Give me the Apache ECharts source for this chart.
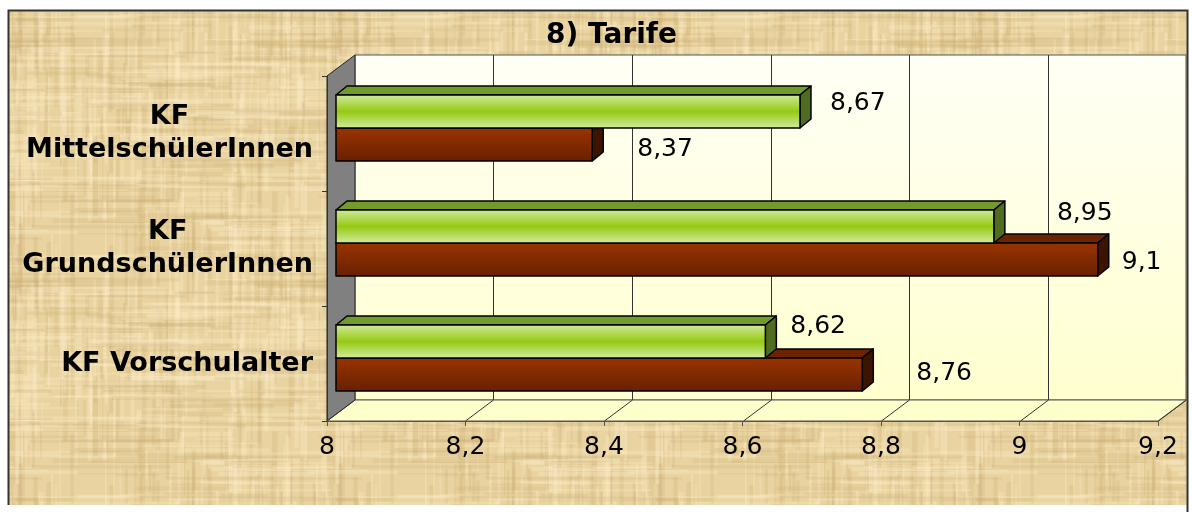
<!DOCTYPE html>
<html>
<head>
<meta charset="utf-8">
<script src="https://cdn.jsdelivr.net/npm/echarts@6/dist/echarts.min.js"></script>
<style>
  html, body { margin: 0; padding: 0; background: #fff; }
  #chart { width: 1192px; height: 512px; }
</style>
</head>
<body>
<div id="chart"></div>
<script>
var categories = ['KF Vorschulalter', 'KF\nGrundschülerInnen', 'KF\nMittelschülerInnen'];
var greenValues = [8.62, 8.95, 8.67];
var brownValues = [8.76, 9.1, 8.37];
var tickValues = [8, 8.2, 8.4, 8.6, 8.8, 9, 9.2];

// label nudges (pixels), per category
var greenLabelDx = [25, 63, 30];
var greenLabelDy = [-15, -13, -8];
var brownLabelDx = [54, 24, 45];
var brownLabelDy = [-1, 3, 5];

var FONT = 'DejaVu Sans';
var DEPTH_X = 28, DEPTH_Y = -21;   // chart depth
var BAR_DX = 11, BAR_DY = -9;      // bar depth
var BAR_SHIFT_X = 9, BAR_SHIFT_Y = -5.5;

function comma(v) {
	return String(v).replace('.', ',');
}

// papyrus-like background
function makePaper() {
	var c = document.createElement('canvas');
	c.width = 320; c.height = 240;
	var g = c.getContext('2d');
	g.fillStyle = '#e9d4a1';
	g.fillRect(0, 0, c.width, c.height);
	function h(n) {
		var s = Math.sin(n * 127.1 + 311.7) * 43758.5453;
		return s - Math.floor(s);
	}
	// vertical fibres, short segments
	for (var i = 0; i < 260; i++) {
		var x = h(i) * c.width, w = 1 + h(i + 500) * 4;
		var y = h(i + 700) * c.height, len = 20 + h(i + 800) * 90;
		g.fillStyle = h(i + 900) > 0.45 ? 'rgba(252,236,198,0.35)' : 'rgba(200,168,110,0.22)';
		g.fillRect(x, y, w, len);
		if (y + len > c.height) g.fillRect(x, y - c.height, w, len);
	}
	// horizontal fibres
	for (var j = 0; j < 220; j++) {
		var yy = h(j + 2000) * c.height, hh = 1 + h(j + 2500) * 4;
		var xx = h(j + 2700) * c.width, ll = 30 + h(j + 2800) * 120;
		g.fillStyle = h(j + 2900) > 0.45 ? 'rgba(252,236,198,0.3)' : 'rgba(200,168,110,0.2)';
		g.fillRect(xx, yy, ll, hh);
		if (xx + ll > c.width) g.fillRect(xx - c.width, yy, ll, hh);
	}
	return c;
}

var chart = echarts.init(document.getElementById('chart'));

function renderFrame(params, api) {
	var cs = params.coordSys;
	var x = cs.x, y = cs.y, w = cs.width, hgt = cs.height;
	var children = [];
	// back wall
	children.push({
		type: 'rect',
		shape: { x: x + DEPTH_X, y: y + DEPTH_Y, width: w, height: hgt },
		style: {
			fill: new echarts.graphic.LinearGradient(0, 0, 0, 1, [
				{ offset: 0, color: '#fffff6' },
				{ offset: 1, color: '#ffffcf' }
			]),
			stroke: '#555', lineWidth: 1
		}
	});
	// floor
	children.push({
		type: 'polygon',
		shape: { points: [[x, y + hgt], [x + DEPTH_X, y + hgt + DEPTH_Y], [x + w + DEPTH_X, y + hgt + DEPTH_Y], [x + w, y + hgt]] },
		style: { fill: '#ffffcc', stroke: '#555', lineWidth: 1 }
	});
	// left side wall
	children.push({
		type: 'polygon',
		shape: { points: [[x, y], [x + DEPTH_X, y + DEPTH_Y], [x + DEPTH_X, y + hgt + DEPTH_Y], [x, y + hgt]] },
		style: { fill: '#808080', stroke: '#222', lineWidth: 1 }
	});
	tickValues.forEach(function (v, i) {
		var px = Math.round(api.coord([v, 0])[0]) + 0.5;
		if (i > 0 && i < tickValues.length - 1) {
			children.push({
				type: 'line',
				shape: { x1: px + DEPTH_X, y1: y + DEPTH_Y, x2: px + DEPTH_X, y2: y + hgt + DEPTH_Y },
				style: { stroke: '#333', lineWidth: 1 }
			});
		}
		if (i > 0) {
			children.push({
				type: 'line',
				shape: { x1: px, y1: y + hgt, x2: px + DEPTH_X, y2: y + hgt + DEPTH_Y },
				style: { stroke: '#333', lineWidth: 1 }
			});
		}
	});
	return { type: 'group', children: children };
}

function makeBarRenderer(isGreen, dxs, dys) {
	return function (params, api) {
		var v = api.value(0), ci = api.value(1);
		var p0 = api.coord([tickValues[0], ci]);
		var p1 = api.coord([v, ci]);
		var band = api.size([0, 1])[1];
		var h = band * 0.287;
		var mid = p0[1] + BAR_SHIFT_Y;
		var top = isGreen ? mid - h : mid;
		var x0 = p0[0] + BAR_SHIFT_X, x1 = p1[0] + BAR_SHIFT_X;
		var front = isGreen
			? new echarts.graphic.LinearGradient(0, 0, 0, 1, [
				{ offset: 0, color: '#d2eaa0' },
				{ offset: 0.5, color: '#96c912' },
				{ offset: 1, color: '#d4eca6' }
			])
			: new echarts.graphic.LinearGradient(0, 0, 0, 1, [
				{ offset: 0, color: '#9a3400' },
				{ offset: 1, color: '#682000' }
			]);
		var topFill = isGreen ? '#739a2c' : '#6c2400';
		var sideFill = isGreen ? '#506c1e' : '#3c1400';
		var line = { stroke: '#000', lineWidth: 1.5, lineJoin: 'round' };
		return {
			type: 'group',
			children: [
				{
					type: 'polygon',
					shape: { points: [[x0, top], [x0 + BAR_DX, top + BAR_DY], [x1 + BAR_DX, top + BAR_DY], [x1, top]] },
					style: Object.assign({ fill: topFill }, line)
				},
				{
					type: 'polygon',
					shape: { points: [[x1, top], [x1 + BAR_DX, top + BAR_DY], [x1 + BAR_DX, top + h + BAR_DY], [x1, top + h]] },
					style: Object.assign({ fill: sideFill }, line)
				},
				{
					type: 'rect',
					shape: { x: x0, y: top, width: x1 - x0, height: h },
					style: Object.assign({ fill: front }, line)
				},
				{
					type: 'text',
					x: x1 + dxs[ci],
					y: top + h / 2 + dys[ci],
					style: {
						text: comma(v),
						fill: '#000',
						font: '25px "' + FONT + '"',
						align: 'left',
						verticalAlign: 'middle'
					}
				}
			]
		};
	};
}

var option = {
	backgroundColor: '#ffffff',
	animation: false,
	title: {
		text: '8) Tarife',
		left: 541,
		top: 17,
		textStyle: { fontFamily: FONT, fontSize: 28, fontWeight: 'bold', color: '#000' }
	},
	graphic: [
		{
			type: 'rect',
			z: -10,
			shape: { x: 8, y: 10, width: 1179, height: 495 },
			style: { fill: { image: makePaper(), repeat: 'repeat' } }
		},
		{
			type: 'polyline',
			z: -9,
			shape: { points: [[8.5, 505], [8.5, 10.5], [1187.5, 10.5], [1187.5, 512]] },
			style: { fill: null, stroke: '#333', lineWidth: 2 }
		}
	],
	grid: { left: 327, top: 76, width: 831, height: 345 },
	xAxis: {
		type: 'value',
		min: 8,
		max: 9.2,
		interval: 0.2,
		z: 10,
		axisLine: { show: true, lineStyle: { color: '#555', width: 1 } },
		axisTick: { show: true, length: 5, lineStyle: { color: '#555' } },
		splitLine: { show: false },
		axisLabel: {
			margin: 14,
			color: '#000',
			fontFamily: FONT,
			fontSize: 25,
			formatter: comma
		}
	},
	yAxis: {
		type: 'category',
		data: categories,
		z: 10,
		axisLine: { show: true, lineStyle: { color: '#333' } },
		axisTick: { show: true, length: 5, lineStyle: { color: '#333' } },
		splitLine: { show: false },
		axisLabel: {
			margin: 14,
			formatter: function (v) {
				return v.split('\n').map(function (s) { return '{c|' + s + '}'; }).join('\n');
			},
			rich: {
				c: {
					align: 'center',
					fontFamily: FONT,
					fontSize: 27,
					fontWeight: 'bold',
					lineHeight: 33,
					color: '#000'
				}
			}
		}
	},
	series: [
		{
			type: 'custom',
			name: 'frame',
			z: 1,
			silent: true,
			renderItem: renderFrame,
			data: [[tickValues[0], 0]],
			encode: { x: 0, y: 1 }
		},
		{
			type: 'custom',
			name: 'brown',
			z: 2,
			renderItem: makeBarRenderer(false, brownLabelDx, brownLabelDy),
			data: brownValues.map(function (v, i) { return [v, i]; }),
			encode: { x: 0, y: 1 }
		},
		{
			type: 'custom',
			name: 'green',
			z: 3,
			renderItem: makeBarRenderer(true, greenLabelDx, greenLabelDy),
			data: greenValues.map(function (v, i) { return [v, i]; }),
			encode: { x: 0, y: 1 }
		}
	]
};

chart.setOption(option);
</script>
</body>
</html>
